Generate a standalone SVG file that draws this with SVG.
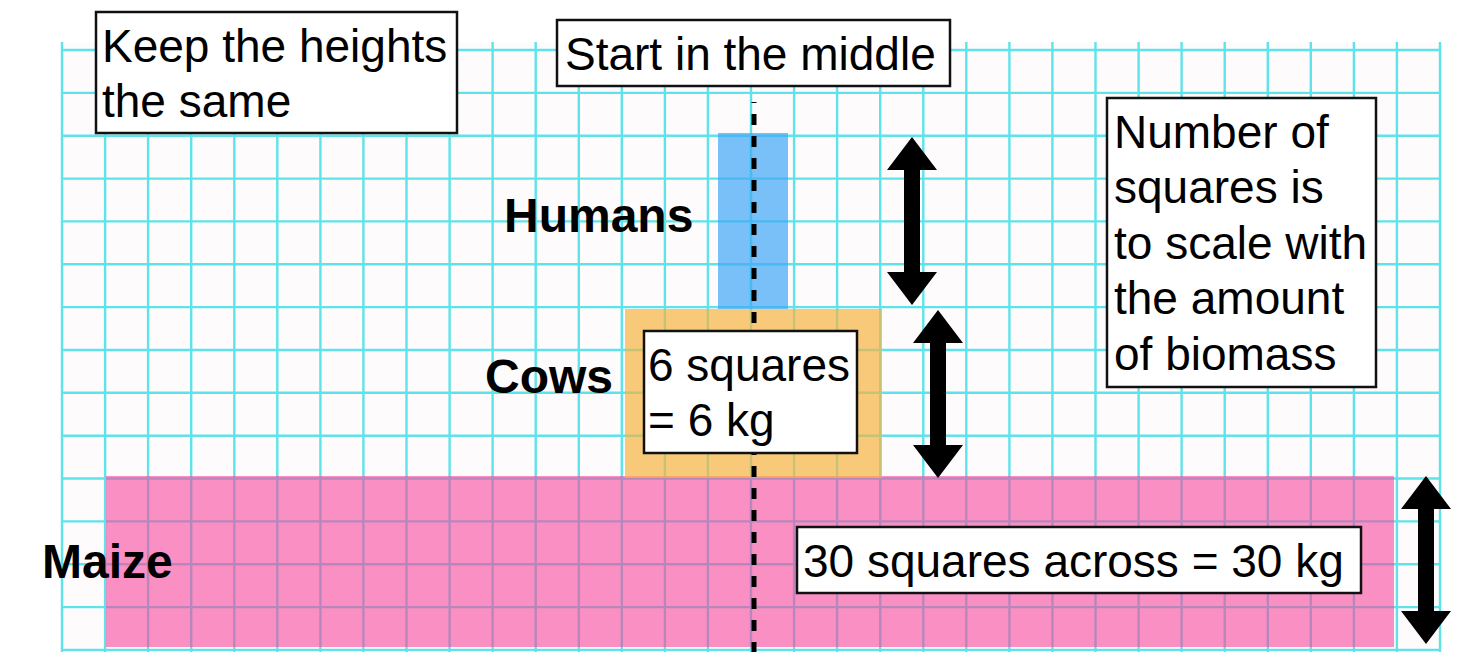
<svg xmlns="http://www.w3.org/2000/svg" width="1481" height="652" viewBox="0 0 1481 652">
<style>
.grid{stroke:#5ee3ea;stroke-width:2.4;fill:none}
.box{fill:#ffffff;stroke:#111111;stroke-width:2.5}
.t{font-family:"Liberation Sans",Arial,sans-serif;font-size:46px;fill:#000}
.b{font-family:"Liberation Sans",Arial,sans-serif;font-size:48px;font-weight:bold;fill:#000}
</style>
<defs>
<path id="dblArrow" d="M0,0 L25,33 L8,33 L8,135 L25,135 L0,168 L-25,135 L-8,135 L-8,33 L-25,33 Z" fill="#000"/>
</defs>
<rect width="1481" height="652" fill="#ffffff"/>
<g id="grid">
<rect x="62" y="42" width="1378" height="610" fill="#fefbfc"/>
<path class="grid" d="M62,42V652M105.1,42V652M148.1,42V652M191.2,42V652M234.3,42V652M277.3,42V652M320.4,42V652M363.4,42V652M406.5,42V652M449.6,42V652M492.6,42V652M535.7,42V652M578.8,42V652M621.8,42V652M664.9,42V652M707.9,42V652M751,42V652M794.1,42V652M837.1,42V652M880.2,42V652M923.3,42V652M966.3,42V652M1009.4,42V652M1052.4,42V652M1095.5,42V652M1138.6,42V652M1181.6,42V652M1224.7,42V652M1267.8,42V652M1310.8,42V652M1353.9,42V652M1396.9,42V652M1440,42V652"/>
<path class="grid" d="M62,50H1440M62,92.9H1440M62,135.7H1440M62,178.6H1440M62,221.4H1440M62,264.3H1440M62,307.1H1440M62,350H1440M62,392.8H1440M62,435.7H1440M62,478.5H1440M62,521.4H1440M62,564.2H1440M62,607.1H1440M62,649.9H1440"/>
</g>
<g id="maize">
<rect x="106" y="476" width="1288" height="171" fill="#f7479d" fill-opacity="0.6"/>
<text class="b" x="42" y="578">Maize</text>
</g>
<g id="cows">
<rect x="625" y="309" width="257" height="169" fill="#f5b342" fill-opacity="0.7"/>
<text class="b" x="485" y="393">Cows</text>
</g>
<g id="humans">
<rect x="718" y="133" width="70" height="176" fill="#3fa6f5" fill-opacity="0.7"/>
<text class="b" x="504" y="232">Humans</text>
</g>
<g id="midline">
<line x1="754" y1="102" x2="754" y2="652" stroke="#000" stroke-width="5" stroke-dasharray="11 11" stroke-dashoffset="10"/>
</g>
<g id="note-heights">
<rect class="box" x="96" y="12" width="361" height="121"/>
<text class="t" x="102" y="62">Keep the heights</text>
<text class="t" x="102" y="117">the same</text>
</g>
<g id="note-start">
<rect class="box" x="557" y="20" width="393" height="66"/>
<text class="t" x="565" y="70">Start in the middle</text>
</g>
<g id="note-scale">
<rect class="box" x="1107" y="98" width="269" height="289"/>
<text class="t" x="1114" y="148">Number of</text>
<text class="t" x="1114" y="203">squares is</text>
<text class="t" x="1114" y="259">to scale with</text>
<text class="t" x="1114" y="314">the amount</text>
<text class="t" x="1114" y="370">of biomass</text>
</g>
<g id="note-cows">
<rect class="box" x="644" y="331" width="213" height="122"/>
<text class="t" x="648" y="381">6 squares</text>
<text class="t" x="648" y="436">= 6 kg</text>
</g>
<g id="note-maize">
<rect class="box" x="797" y="527" width="564" height="66"/>
<text class="t" x="803" y="577">30 squares across = 30 kg</text>
</g>
<g id="connectors">
<use href="#dblArrow" x="912" y="137"/>
<use href="#dblArrow" x="938" y="310"/>
<use href="#dblArrow" x="1426" y="476"/>
</g>
</svg>
